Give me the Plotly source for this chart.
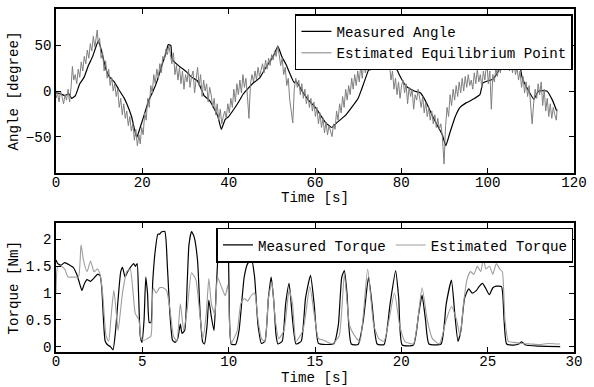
import plotly.graph_objects as go
from plotly.subplots import make_subplots

# ---------------- Angle data ----------------
meas_angle_t = [0, 1, 2, 3, 3.6, 4.5, 5.5, 6.5, 7.5, 8.5, 9.8, 10.5, 11.5, 12.3, 13.5, 14.5, 15.7, 16.5, 17.5, 18.7,
                19.5, 20.5, 21.5, 22.5, 23.5, 24.5, 25.5, 26.0, 26.6, 26.9, 28.6, 30, 31.5, 32.8, 34.3, 35.5, 36.5, 37.5,
                38.3, 39.2, 40, 41.2, 42.3, 43.4, 44.5, 45.5, 47.2, 48.5, 49.5, 50.5, 51.4, 52.3, 53.3, 55.2, 55.6, 57,
                58.5, 60.1, 61.5, 62.5, 63.9, 65, 67, 68.5, 70, 70.8, 72, 73.4, 74.5, 75.3, 76.1, 77, 77.6, 78.5, 79.5,
                80.3, 81.2, 82.2, 83, 84.4, 85.5, 86.7, 87.5, 88.6, 89.5, 90.3, 91.3, 92.5, 93.6, 95, 95.9, 97, 98.2,
                98.9, 100, 101.2, 102.5, 103.4, 104.2, 105, 106.9, 107.5, 108, 109.5, 110.7, 111.8, 113.7, 115, 116]
meas_angle = [-2, -3, -5, -3, -8, -5, 8, 15, 28, 38, 55, 45, 25, 16, 10, 2, -7, -15, -28, -51,
              -40, -25, -10, 0, 12, 28, 42, 51, 50, 35, 27, 22, 15, 11, -5, -10, -18, -28,
              -42, -31, -28, -20, -12, -3, 3, 8, 14.5, 25, 32, 40, 49, 38, 29, 9, 11, 0,
              -10, -18, -28, -35, -40, -35, -27, -18, -8, 2, 18, 35, 38, 42, 46, 47, 44, 30, 18,
              11, 5, 2, 0, -2, -10, -22, -30, -40, -48, -60, -45, -28, -18, -13, -11, -8, -4,
              9, 11, 13, 22, 31, 38, 42, 42, 28, 14.5, 0, -9, 0, 0, -10, -22]

# estimated equilibrium point: (time, angle) pairs
est_angle_pts = [
    (0, -8), (0.35, -2), (0.7, -12), (1.05, 0), (1.4, -6), (1.75, -14), (2.1, -4), (2.45, -10), (2.8, 2),
    (3.15, -12), (3.5, 5), (3.8, 27), (4.1, 12),
    (4.45, 18), (4.8, 8), (5.15, 24), (5.5, 15), (5.85, 32), (6.2, 22), (6.55, 38), (6.9, 30), (7.25, 45),
    (7.6, 36), (7.95, 52), (8.3, 44), (8.65, 60), (9.0, 48), (9.3, 58), (9.55, 67), (9.8, 52),
    (10.1, 58), (10.45, 36), (10.8, 42), (11.15, 22), (11.5, 33), (11.85, 14), (12.2, 24), (12.55, 6),
    (12.9, 15), (13.25, 0), (13.6, 8), (13.95, -6), (14.3, 2), (14.65, -18), (15.0, -8), (15.35, -26),
    (15.7, -14), (16.05, -30), (16.4, -22), (16.75, -38), (17.1, -28), (17.45, -44), (17.8, -36),
    (18.15, -54), (18.5, -42), (18.85, -60), (19.2, -48), (19.5, -58),
    (19.85, -40), (20.2, -48), (20.55, -24), (20.9, -32), (21.25, -8), (21.6, -18), (21.95, 6), (22.3, -2),
    (22.65, 18), (23.0, 8), (23.35, 24), (23.7, 14), (24.05, 30), (24.4, 20), (24.75, 38), (25.1, 34),
    (25.45, 46), (25.8, 40), (26.15, 50),
    (26.5, 40), (26.85, 30), (27.2, 42), (27.55, 18), (27.9, 28), (28.25, 12), (28.6, 26), (28.95, 8),
    (29.3, 22), (29.65, 2), (30.0, 18), (30.35, 10), (30.7, 24), (31.05, 4), (31.4, 16), (31.75, 22),
    (32.1, -2), (32.45, 14), (32.8, 26), (33.15, 6), (33.5, 18), (33.85, -6), (34.2, 12), (34.55, 0),
    (34.9, 8), (35.25, -12), (35.6, 4), (35.95, -4), (36.3, -18), (36.65, -8), (37.0, -26), (37.35, -14),
    (37.7, -32), (38.05, -20), (38.4, -36), (38.75, -28),
    (39.1, -22), (39.45, -30), (39.8, -14), (40.15, -24), (40.5, -8), (40.85, -18), (41.2, 2), (41.55, -12),
    (41.9, 8), (42.25, -4), (42.6, 12), (42.95, -2), (43.3, 18), (43.65, 4), (44.0, 14), (44.35, -6),
    (44.7, -30), (45.05, 8), (45.4, 18), (45.75, 10), (46.1, 22), (46.45, 12), (46.8, 26), (47.15, 16),
    (47.5, 24), (47.85, 30), (48.2, 20), (48.55, 34), (48.9, 24), (49.25, 36), (49.6, 28), (49.95, 40),
    (50.3, 34), (50.65, 44), (51.0, 38), (51.35, 50),
    (51.7, 40), (52.05, 28), (52.4, 36), (52.75, 18), (53.1, 26), (53.45, 6), (53.8, 14), (54.15, -10),
    (54.5, -22), (54.85, -35), (55.2, 2), (55.55, 14), (55.9, 4), (56.25, 12), (56.6, -4), (56.95, 8),
    (57.3, -8), (57.65, 2), (58.0, -14), (58.35, -4), (58.7, -18), (59.05, -8), (59.4, -22), (59.75, -12),
    (60.1, -28), (60.45, -18), (60.8, -36), (61.15, -24), (61.5, -40), (61.85, -30), (62.2, -46),
    (62.55, -34), (62.9, -48), (63.25, -38), (63.6, -44), (63.95, -50),
    (64.3, -36), (64.65, -42), (65.0, -22), (65.35, -32), (65.7, -14), (66.05, -24), (66.4, -6),
    (66.75, -18), (67.1, 2), (67.45, -10), (67.8, 6), (68.15, -4), (68.5, 14), (68.85, 2), (69.2, 18),
    (69.55, 6), (69.9, 22), (70.25, 10), (70.6, 28), (70.95, 14), (71.3, 32), (71.65, 20), (72.0, 26),
    (72.35, 34), (72.7, 22), (73.05, 30), (73.4, 38), (73.75, 26), (74.1, 36), (74.45, 28), (74.8, 34),
    (75.15, 24), (75.5, 38), (75.85, 30), (76.2, 40), (76.55, 32), (76.9, 36),
    (77.25, 30), (77.6, 12), (77.95, 22), (78.3, 2), (78.65, 14), (79.0, -4), (79.35, 10), (79.7, -8),
    (80.05, 6), (80.4, 12), (80.75, -2), (81.1, 8), (81.45, -14), (81.8, 4), (82.15, -6), (82.5, 2),
    (82.85, -20), (83.2, -4), (83.55, -10), (83.9, 2), (84.25, -8), (84.6, -18), (84.95, -6), (85.3, -24),
    (85.65, -12), (86.0, -28), (86.35, -18), (86.7, -32), (87.05, -22), (87.4, -36), (87.75, -26),
    (88.1, -40), (88.45, -30), (88.8, -42), (89.15, -36), (89.5, -50), (89.9, -80),
    (90.25, -38), (90.6, -18), (90.95, -28), (91.3, -4), (91.65, -16), (92.0, 2), (92.35, -10), (92.7, 6),
    (93.05, -6), (93.4, 10), (93.75, -2), (94.1, 14), (94.45, 0), (94.8, 16), (95.15, 4), (95.5, 18),
    (95.85, 6), (96.2, 12), (96.55, 2), (96.9, 20), (97.25, 8), (97.6, 24), (97.95, 10), (98.3, 18),
    (98.65, 4), (99.0, 22), (99.35, 12), (99.8, 33), (100.15, 8), (100.5, 22), (100.85, -20), (101.2, 18),
    (101.55, 10), (101.9, 26), (102.25, 16), (102.6, 30), (102.95, 20), (103.3, 34), (103.65, 24),
    (104.0, 36), (104.35, 26), (104.7, 32), (105.05, 22), (105.4, 34), (105.75, 20), (106.1, 30),
    (106.45, 18), (106.8, 26),
    (107.15, 12), (107.5, 22), (107.85, 4), (108.2, 16), (108.55, -2), (108.9, 10), (109.25, -6),
    (109.6, 6), (109.95, -20), (110.3, -36), (110.65, -14), (111.0, 2), (111.35, -8), (111.7, 8),
    (112.05, -4), (112.4, 10), (112.75, -16), (113.1, 2), (113.45, -22), (113.8, -8), (114.15, -28),
    (114.5, -14), (114.85, -30), (115.2, -18), (115.55, -26), (115.9, -32), (116.1, -20),
]
est_angle_t = [p[0] for p in est_angle_pts]
est_angle = [p[1] for p in est_angle_pts]

# ---------------- Torque data ----------------
meas_torque_t = [0.0, 0.1, 0.3, 0.5, 0.8, 1.0, 1.2, 1.35, 1.5, 1.65, 1.8, 2.0, 2.2, 2.4, 2.55, 2.65, 2.75, 2.85, 3.0,
                 3.15, 3.3, 3.45, 3.6, 3.75, 3.85, 4.0, 4.15, 4.35, 4.5, 4.6, 4.7, 4.78, 4.88, 4.98, 5.1, 5.2, 5.3,
                 5.4, 5.5, 5.6, 5.75, 5.9, 6.0, 6.1, 6.3, 6.45, 6.6, 6.75, 6.9, 7.05, 7.2, 7.3, 7.45, 7.6, 7.7, 7.85,
                 8.0, 8.2, 8.35, 8.5, 8.6, 8.75, 8.85, 9.0, 9.15, 9.3, 9.45, 9.6, 9.8, 9.95, 10.0, 10.05, 10.15, 10.4,
                 10.6, 10.9, 11.1, 11.33, 11.5, 11.7, 11.9, 12.1, 12.3, 12.46, 12.6, 12.75, 12.85, 13.1, 13.3, 13.5,
                 13.7, 13.9, 14.2, 14.45, 14.74, 14.95, 15.2, 15.6, 16.1, 16.35, 16.55, 16.7, 16.85, 17.1, 17.5, 17.8,
                 18.1, 18.3, 18.6, 19.0, 19.35, 19.67, 19.85, 20.05, 20.7, 21.0, 21.2, 21.4, 21.6, 22.3, 22.6, 22.9,
                 23.1, 23.28, 23.45, 23.66, 23.9, 24.1, 24.35, 24.5, 24.7, 24.9, 25.1, 25.3, 25.5, 25.8, 25.95, 26.1,
                 26.5, 26.8, 26.97, 27.2, 28.0, 29.2]
meas_torque = [1.62, 1.55, 1.52, 1.57, 1.52, 1.48, 1.35, 1.2, 1.05, 1.18, 1.25, 1.22, 1.28, 1.35, 1.33, 1.1, 0.5, 0.1,
               0.03, 0.0, -0.06, 0.3, 0.9, 1.4, 1.48, 1.3, 1.4, 1.5, 1.55, 1.5, 1.55, 1.0, 0.2, 0.08, 0.5, 1.3, 1.0,
               0.45, 0.45, 1.2, 1.8, 2.1, 2.1, 2.14, 2.15, 1.5, 0.6, 0.12, 0.08, 0.15, 0.42, 0.25, 0.3, 1.2, 1.9, 2.15,
               2.05, 1.6, 0.6, 0.08, 0.05, 0.4, 0.87, 0.55, 0.3, 1.2, 1.9, 1.95, 2.0, 2.0, 1.5, 0.5, 0.05, 0.04,
               0.3, 1.3, 1.55, 1.62, 1.3, 0.4, 0.06, 0.1, 0.9, 1.3, 0.9, 0.2, 0.05, 0.1, 0.8, 1.18,
               0.5, 0.05, 0.1, 0.9, 1.33, 0.8, 0.06, 0.04, 0.06, 0.4, 1.3, 1.42, 1.0, 0.05, 0.04, 0.5,
               1.3, 0.8, 0.05, 0.04, 0.8, 1.42, 0.9, 0.03, 0.03, 0.6, 0.96, 0.5, 0.05, 0.05, 0.8, 1.24,
               0.6, 0.1, 0.3, 0.9, 1.08, 1.0, 1.05, 1.12, 1.18, 1.08, 0.97, 1.1, 1.13, 1.12, 0.5, 0.05,
               0.03, 0.05, 0.09, 0.03, 0.01, 0.0]

est_torque_t = [0.0, 0.1, 0.3, 0.5, 0.7, 1.0, 1.3, 1.45, 1.6, 1.8, 2.0, 2.2, 2.4, 2.55, 2.7, 2.9, 3.05, 3.2, 3.35,
                3.5, 3.6, 3.85, 4.1, 4.3, 4.59, 4.8, 4.93, 5.1, 5.3, 5.5, 5.63, 5.8, 6.0, 6.2, 6.4, 6.6, 6.8, 7.0,
                7.2, 7.4, 7.6, 7.85, 8.1, 8.3, 8.5, 8.7, 8.85, 9.0, 9.2, 9.35, 9.6, 9.8, 9.95, 10.05, 10.15, 10.3,
                10.5, 10.7, 10.9, 11.1, 11.3, 11.5, 11.7, 11.9, 12.1, 12.3, 12.5, 12.7, 12.9, 13.2, 13.5, 13.7, 13.9,
                14.3, 14.7, 15.0, 15.2, 15.5, 16.0, 16.4, 16.7, 17.0, 17.3, 17.6, 18.05, 18.4, 18.7, 19.0, 19.6,
                19.9, 20.2, 20.7, 21.2, 21.5, 21.8, 22.2, 22.6, 22.9, 23.2, 23.4, 23.6, 23.8, 24.0, 24.2, 24.4, 24.6,
                24.75, 24.9, 25.1, 25.3, 25.5, 25.7, 25.85, 26.0, 26.2, 26.5, 27.0, 27.5, 28.0, 28.5, 29.0, 29.2]
est_torque = [1.0, 1.5, 1.5, 1.45, 1.3, 1.3, 1.3, 1.9, 1.6, 1.4, 1.6, 1.4, 1.45, 1.35, 1.0, 0.2, 0.1, 0.6, 1.05,
              0.6, 0.3, 1.0, 1.4, 1.45, 0.62, 0.5, 0.15, 0.12, 0.15, 0.2, 1.1, 1.0, 1.1, 1.1, 1.05, 0.7, 0.2, 0.1,
              0.8, 0.3, 0.7, 1.38, 1.25, 0.7, 0.15, 0.6, 1.27, 0.8, 0.6, 1.3, 1.1, 0.95, 1.15, 0.4, 0.06, 0.15,
              0.3, 0.8, 0.9, 0.85, 0.95, 1.0, 0.5, 0.15, 0.1, 0.9, 1.2, 0.5, 0.15, 0.3, 1.05, 0.8, 0.1,
              0.3, 1.12, 0.5, 0.15, 0.12, 0.05, 0.2, 1.35, 0.4, 0.2, 0.1, 1.45, 0.4, 0.15, 0.1, 1.0,
              0.4, 0.1, 0.05, 1.1, 0.5, 0.15, 0.05, 0.5, 0.75, 0.5, 0.2, 0.8, 1.25, 1.4, 1.35, 1.5, 1.4,
              1.65, 1.45, 1.5, 1.35, 1.55, 1.45, 1.4, 0.5, 0.1, 0.08, 0.06, 0.05, 0.04, 0.06, 0.05, 0.05]

angle_ticks = [-50, 0, 50]
time1_ticks = [0, 20, 40, 60, 80, 100, 120]
torque_ticks = [0, 0.5, 1, 1.5, 2]
torque_tick_text = ["0", "0.5", "1", "1.5", "2"]
time2_ticks = [0, 5, 10, 15, 20, 25, 30]

FONT = "Liberation Mono, Courier New, monospace"
fsz = 14.2
tfont = dict(family=FONT, size=fsz, color="black")

fig = make_subplots(rows=2, cols=1, vertical_spacing=0.0)

fig.add_trace(go.Scatter(x=meas_angle_t, y=meas_angle, mode="lines", name="Measured Angle",
                         line=dict(color="black", width=1.2, shape="spline", smoothing=0.4),
                         legend="legend"), row=1, col=1)
fig.add_trace(go.Scatter(x=est_angle_t, y=est_angle, mode="lines", name="Estimated Equilibrium Point",
                         line=dict(color="#7f7f7f", width=1.0), legend="legend"), row=1, col=1)
fig.add_trace(go.Scatter(x=meas_torque_t, y=meas_torque, mode="lines", name="Measured Torque",
                         line=dict(color="black", width=1.2, shape="spline", smoothing=0.5),
                         legend="legend2"), row=2, col=1)
fig.add_trace(go.Scatter(x=est_torque_t, y=est_torque, mode="lines", name="Estimated Torque",
                         line=dict(color="#9d9d9d", width=1.1, shape="spline", smoothing=0.5),
                         legend="legend2"), row=2, col=1)

axis_common = dict(showline=True, linecolor="black", linewidth=1.5, mirror="allticks",
                   ticks="inside", ticklen=5, tickcolor="black", tickwidth=1,
                   showgrid=False, zeroline=False, tickfont=tfont)

fig.update_xaxes(ticklabelstandoff=-5, **axis_common)
fig.update_yaxes(**axis_common)

fig.update_layout(
    xaxis=dict(domain=[0, 1], range=[0, 120], tickvals=time1_ticks),
    yaxis=dict(domain=[0.5217, 1], range=[-90, 90], tickvals=angle_ticks,
               title=dict(text="Angle [degree]", font=tfont, standoff=4)),
    xaxis2=dict(domain=[0, 1], range=[0, 30], tickvals=time2_ticks),
    yaxis2=dict(domain=[0, 0.3748], range=[-0.1, 2.3], tickvals=torque_ticks, ticktext=torque_tick_text,
                title=dict(text="Torque [Nm]", font=tfont, standoff=4)),
    legend=dict(x=0.998, y=0.985, xanchor="right", yanchor="top", bgcolor="white",
                bordercolor="black", borderwidth=1.5, font=tfont, tracegroupgap=0, itemwidth=30),
    legend2=dict(x=0.999, y=0.3623, xanchor="right", yanchor="top", orientation="h", bgcolor="white",
                 bordercolor="black", borderwidth=1.5, font=tfont, itemwidth=30),
    annotations=[
        dict(text="Time [s]", xref="paper", yref="paper", x=0.5, y=0.449, xanchor="center",
             yanchor="middle", showarrow=False, font=tfont),
        dict(text="Time [s]", xref="paper", yref="paper", x=0.5, y=-0.076, xanchor="center",
             yanchor="middle", showarrow=False, font=tfont),
    ],
    width=594, height=387,
    margin=dict(l=56, r=11, t=7, b=35),
    plot_bgcolor="white", paper_bgcolor="white",
    showlegend=True,
)

fig.write_html("out.html", config={"displayModeBar": False},
               post_script="document.body.style.margin='0px';")
